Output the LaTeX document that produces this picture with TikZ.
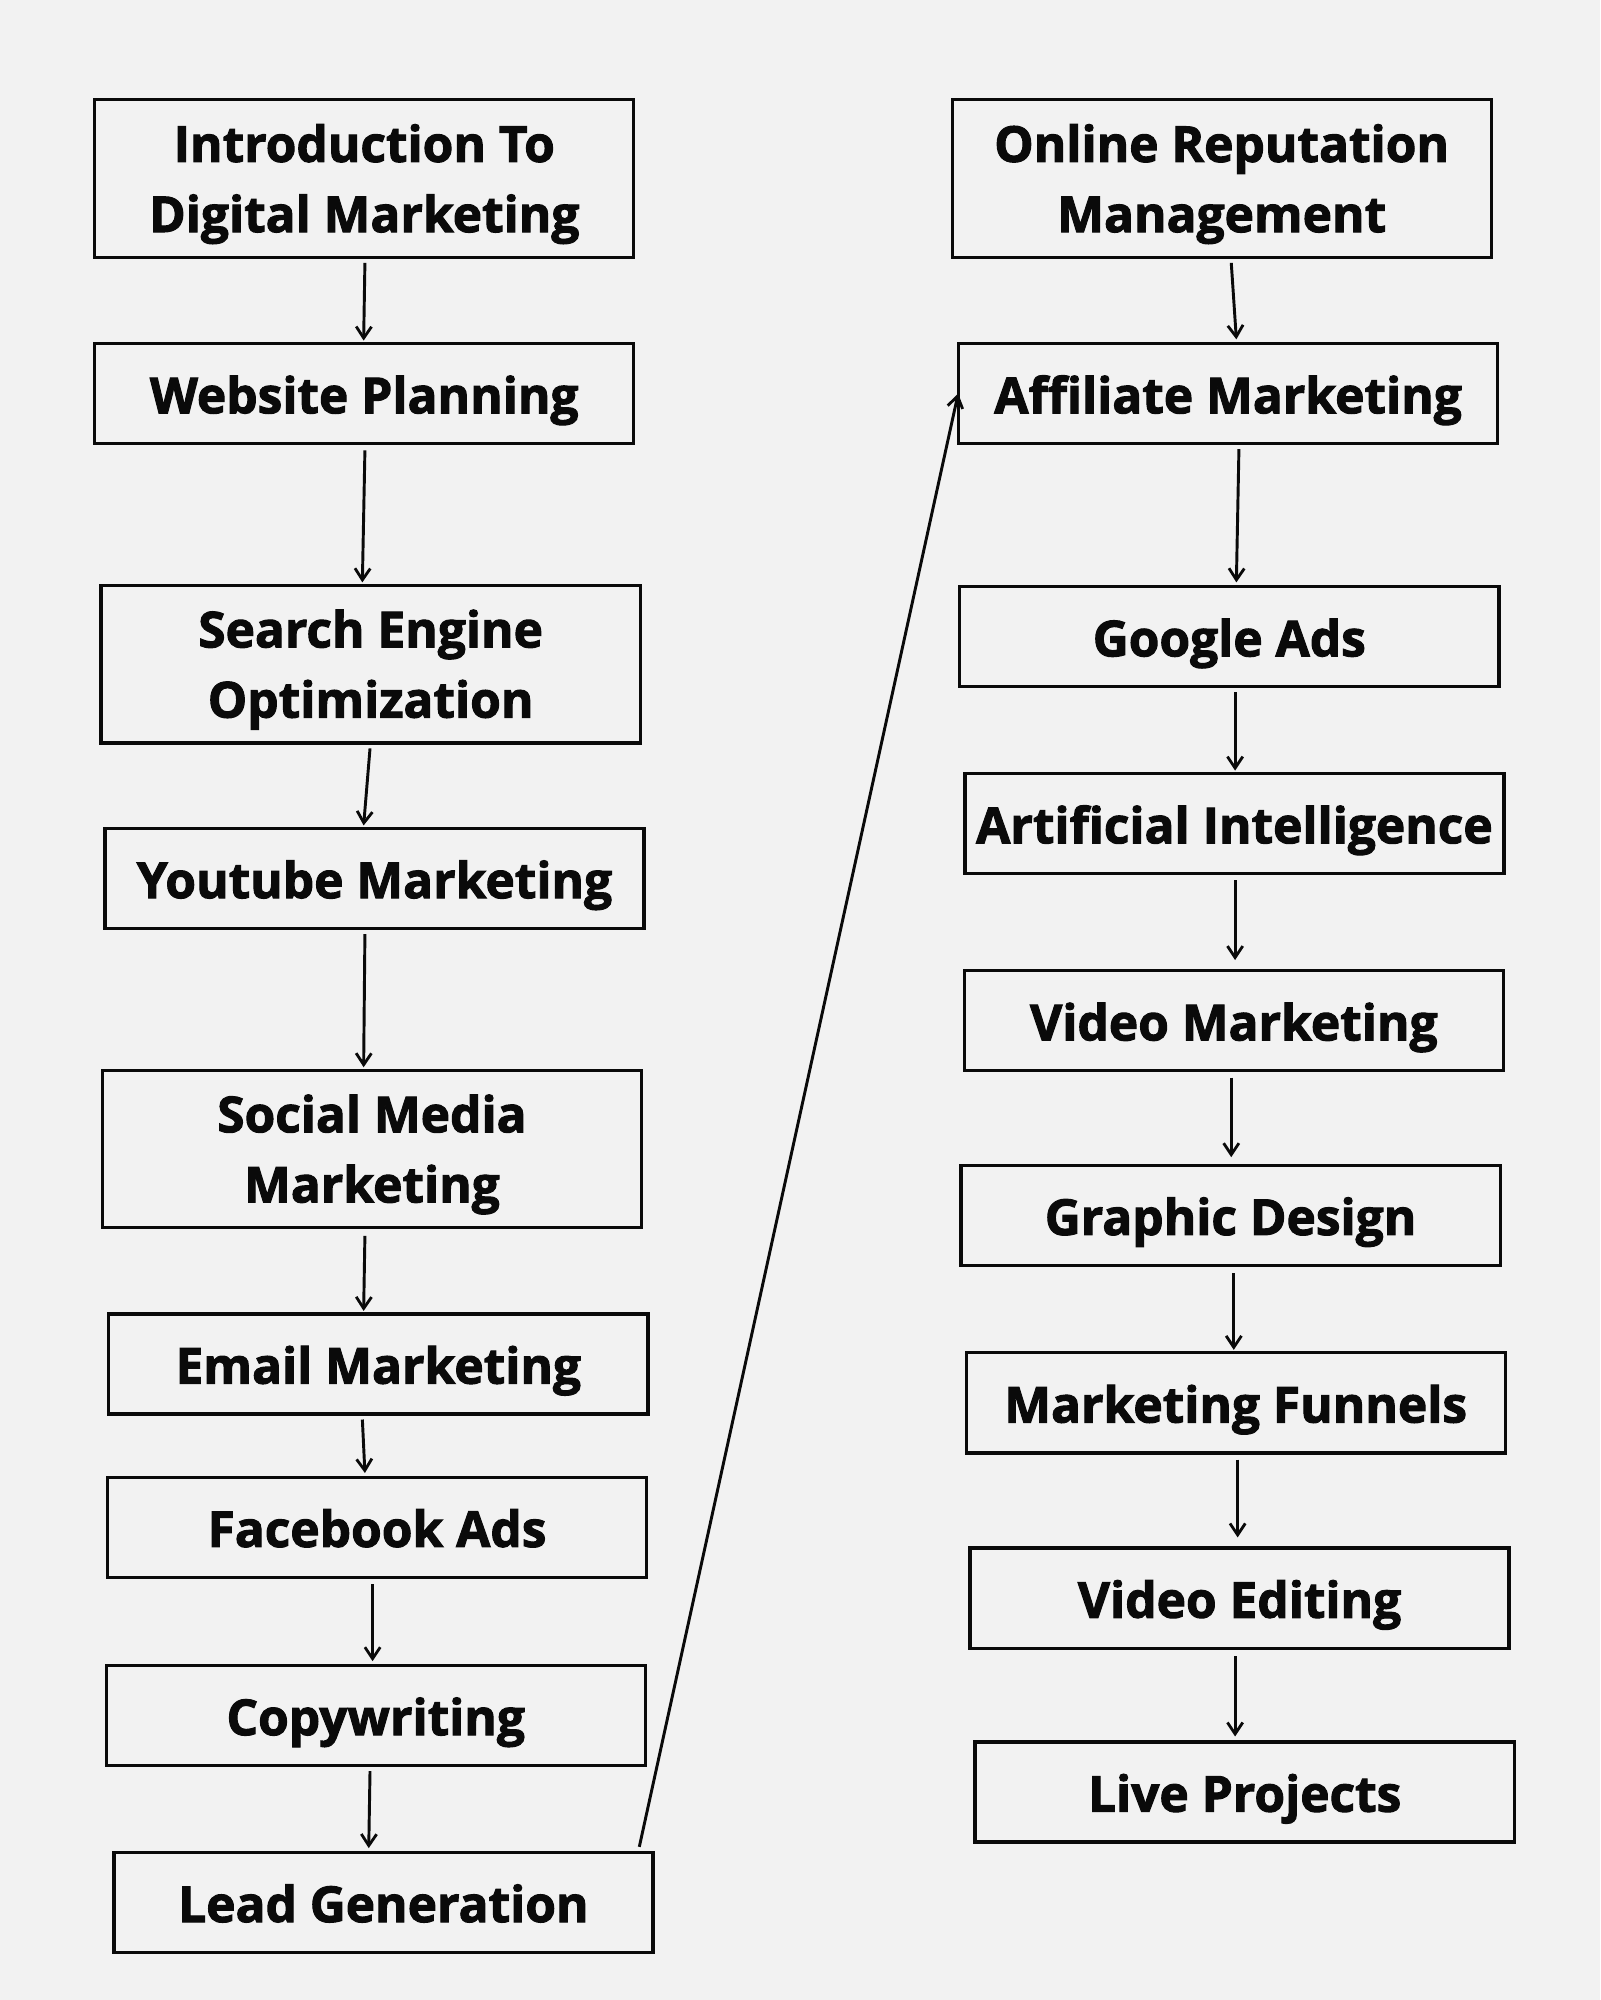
\documentclass[tikz,border=0pt]{standalone}
\usepackage{fontspec}
\setmainfont{Open Sans}[BoldFeatures={FakeBold=2}]
\usetikzlibrary{arrows.meta}
\definecolor{bgc}{HTML}{F2F2F2}
\definecolor{ink}{HTML}{0A0A0A}
\tikzset{
  box/.style={draw=ink, line width=2.6pt, minimum width=422.5pt, inner sep=0pt,
    align=center, text=ink, font=\fontsize{38.9}{55}\selectfont\bfseries},
  twoline/.style={box, minimum height=123.5pt, text height=93pt, text depth=9.2pt},
  oneline/.style={box, minimum height=78.5pt, text height=40pt, text depth=9.2pt},
  arr/.style={draw=ink, line width=2.3pt, -{Straight Barb[length=9pt,width=12pt,line width=2.2pt]}}
}
\begin{document}
\begin{tikzpicture}[x=1pt,y=-1pt]
\fill[bgc] (0,0) rectangle (1254,1567.5);
\useasboundingbox (0,0) rectangle (1254,1567.5);
% left column
\node[twoline] (L1) at (285.5,140) {Introduction To\\Digital Marketing};
\node[oneline] (L2) at (285.5,308.5) {Website Planning};
\node[twoline] (L3) at (290.5,520.5) {Search Engine\\Optimization};
\node[oneline] (L4) at (293.5,688.5) {Youtube Marketing};
\node[twoline] (L5) at (291.5,900.5) {Social Media\\Marketing};
\node[oneline] (L6) at (296.5,1069) {Email Marketing};
\node[oneline] (L7) at (295.5,1197) {Facebook Ads};
\node[oneline] (L8) at (294.5,1344.5) {Copywriting};
\node[oneline] (L9) at (300.5,1491) {Lead Generation};
% right column
\node[twoline] (R1) at (957.5,140) {Online Reputation\\Management};
\node[oneline] (R2) at (962.5,308.5) {Affiliate Marketing};
\node[oneline] (R3) at (963.5,499) {Google Ads};
\node[oneline] (R4) at (967.5,645.5) {Artificial Intelligence};
\node[oneline] (R5) at (967,800) {Video Marketing};
\node[oneline] (R6) at (964.5,952.5) {Graphic Design};
\node[oneline] (R7) at (968.5,1099.5) {Marketing Funnels};
\node[oneline] (R8) at (971.5,1252.5) {Video Editing};
\node[oneline] (R9) at (975.5,1404.5) {Live Projects};
% left arrows
\draw[arr] ([xshift=0.5pt,yshift=-3pt]L1.south) -- ([xshift=-0.5pt,yshift=1pt]L2.north);
\draw[arr] ([xshift=0.5pt,yshift=-4pt]L2.south) -- ([xshift=-6.5pt,yshift=1pt]L3.north);
\draw[arr] ([xshift=-0.5pt,yshift=-3pt]L3.south) -- ([xshift=-8.5pt,yshift=1pt]L4.north);
\draw[arr] ([xshift=-7.5pt,yshift=-3pt]L4.south) -- ([xshift=-6.5pt,yshift=1pt]L5.north);
\draw[arr] ([xshift=-5.5pt,yshift=-5pt]L5.south) -- ([xshift=-11.5pt,yshift=1pt]L6.north);
\draw[arr] ([xshift=-12.5pt,yshift=-3pt]L6.south) -- ([xshift=-9.5pt,yshift=2pt]L7.north);
\draw[arr] ([xshift=-3.5pt,yshift=-4pt]L7.south) -- ([xshift=-2.5pt,yshift=2pt]L8.north);
\draw[arr] ([xshift=-4.5pt,yshift=-3pt]L8.south) -- ([xshift=-11.5pt,yshift=2pt]L9.north);
% long diagonal
\draw[arr] ([xshift=-12pt,yshift=3pt]L9.north east) -- ([xshift=1pt]R2.west);
% right arrows
\draw[arr] ([xshift=7.5pt,yshift=-3pt]R1.south) -- ([xshift=6.5pt,yshift=2pt]R2.north);
\draw[arr] ([xshift=8.5pt,yshift=-3pt]R2.south) -- ([xshift=5.5pt,yshift=2pt]R3.north);
\draw[arr] ([xshift=4.5pt,yshift=-3pt]R3.south) -- ([xshift=0.5pt,yshift=1pt]R4.north);
\draw[arr] ([xshift=0.5pt,yshift=-4pt]R4.south) -- ([xshift=1pt,yshift=7pt]R5.north);
\draw[arr] ([xshift=-2pt,yshift=-4pt]R5.south) -- ([xshift=0.5pt,yshift=5pt]R6.north);
\draw[arr] ([xshift=2.5pt,yshift=-5pt]R6.south) -- ([xshift=-1.5pt,yshift=1pt]R7.north);
\draw[arr] ([xshift=1.5pt,yshift=-4pt]R7.south) -- ([xshift=-1.5pt,yshift=7pt]R8.north);
\draw[arr] ([xshift=-3.5pt,yshift=-5pt]R8.south) -- ([xshift=-7.5pt,yshift=3pt]R9.north);
\end{tikzpicture}
\end{document}
